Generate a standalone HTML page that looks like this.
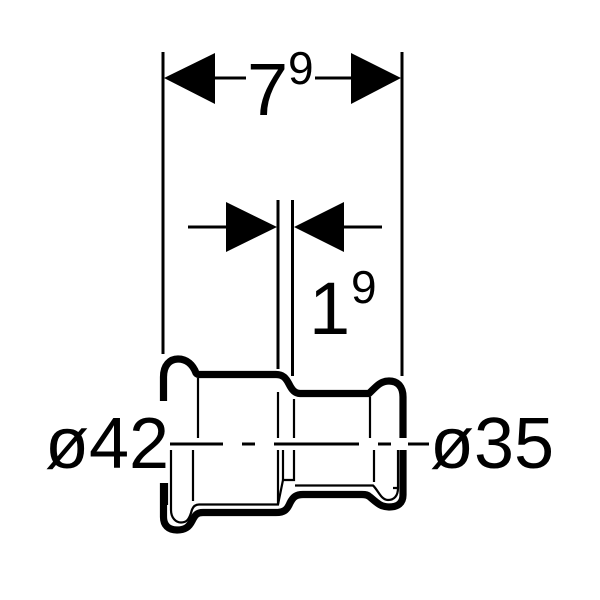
<!DOCTYPE html>
<html><head><meta charset="utf-8"><style>html,body{margin:0;padding:0;background:#fff}svg{display:block}text{font-family:"Liberation Sans",sans-serif;fill:#000}</style></head><body>
<svg width="600" height="600" viewBox="0 0 600 600" xmlns="http://www.w3.org/2000/svg">
<rect width="600" height="600" fill="#fff"/>
<g stroke="#000" fill="none" stroke-width="3">
<path d="M163 52V354M402 52V376M278 200V369M292.500 200V376"/>
<path d="M215 78H246M315 78H351M188 227H226M344 227H382"/>
</g>
<g fill="#000">
<path d="M164 78L215 53V104Z"/><path d="M401 78L351 53V104Z"/>
<path d="M277 227L226 202V252Z"/><path d="M294 227L344 202V252Z"/>
</g>
<g stroke="#000" fill="none" stroke-width="7.2">
<path d="M163.500 401V377C163.500 365 170 359 178 359C187 359 193 365 196 373C197 374.500 198 374.500 200 374.500H276C283 374.500 286 378 289 384C292 390 295 393.500 300 393.500H369C376 387 380 381 389 381C398 381 403 387 403 397V438"/>
<path d="M403 450V495C403 503 398 507 389 507C381 507 377 503 370 497C368 495 366 494.500 362 494.500H303C296 494.500 293 497 290 503C287 510 284 512.500 276 512.500H203C197 512.500 195 515 192 521C189 527 185 530 177 530C168 530 163.500 525 163.500 517V483"/>
</g>
<g stroke="#000" fill="none" stroke-width="2.2">
<path d="M170 444H223M242 444H255M274 444H359M378 444H391M408 444H429" stroke-width="3"/>
<path d="M198 378V438M278 392V438M294 399V438M370 397V438"/>
<path d="M171 450V510C171 518 176 522.500 181 522.500C187 522.500 189 519 191 513C192 508 194 504.500 199 504.500H278L283 480H294V450"/>
<path d="M193 450V501M278 450V504M283 450V480M295 485.500H373C378 490 381 500 388 500C394 500 398 496 398 488V450M374 450V482M393 488H398M167 483V505"/>
</g>
<text x="45" y="468" font-size="72">ø42</text>
<text x="430" y="468" font-size="72">ø35</text>
<text x="247" y="115" font-size="74">7</text>
<text x="288" y="84" font-size="46">9</text>
<text x="309" y="334" font-size="74">1</text>
<text x="351" y="303" font-size="46">9</text>
</svg>
</body></html>
